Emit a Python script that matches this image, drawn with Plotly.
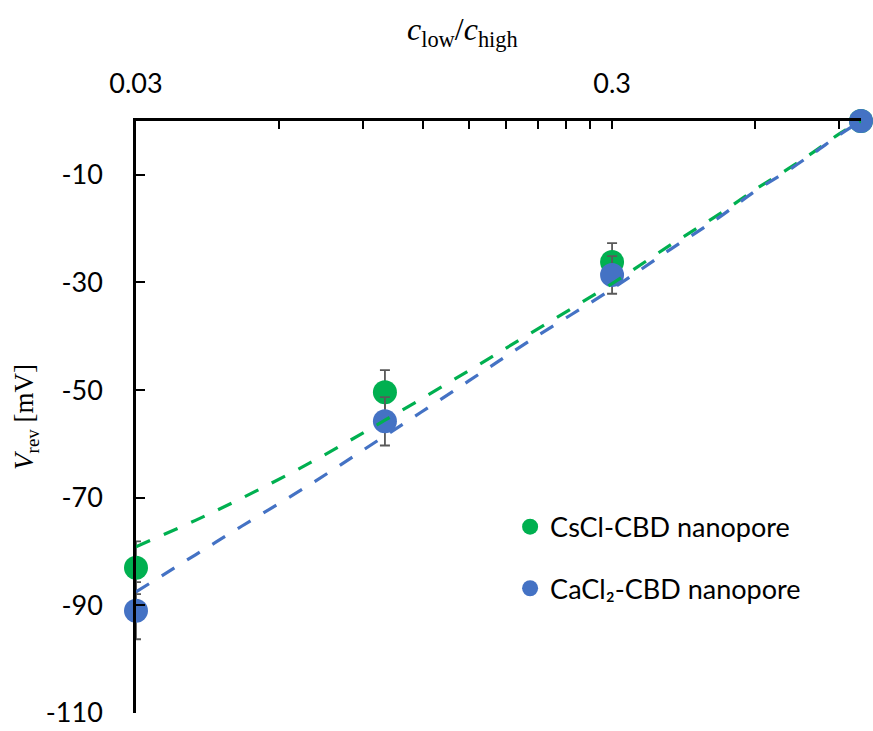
import plotly.graph_objects as go

# ---- data ----
ratio = [0.03, 0.1, 0.3, 1.0]
cscl_v = [-83.0, -50.4, -26.2, 0.0]
cscl_err = [4.9, 4.1, 3.5, 0.0]
cacl2_v = [-91.0, -55.8, -28.6, 0.0]
cacl2_err = [5.3, 4.5, 3.5, 0.0]

fit_ratio = [0.03, 0.04, 0.05, 0.07, 0.1, 0.15, 0.2, 0.3, 0.4, 0.5, 0.6, 0.7, 0.8, 0.9, 1.0]
cscl_fit = [-79.1, -74.2, -70.1, -63.4, -55.6, -46.4, -39.7, -30.2, -22.9, -17.5, -12.7, -9.0, -5.6, -2.4, 0.0]
cacl2_fit = [-87.5, -80.6, -75.3, -67.4, -58.5, -48.3, -41.0, -31.2, -23.7, -18.1, -13.0, -9.3, -5.8, -2.6, 0.0]

x_major_ticks = [0.03, 0.3]
x_major_labels = ["0.03", "0.3"]
x_minor_ticks = [0.06, 0.09, 0.12, 0.15, 0.18, 0.21, 0.24, 0.27, 0.6, 0.9]
y_tickvals = [-110, -90, -70, -50, -30, -10]
y_ticktext = ["-110", "-90", "-70", "-50", "-30", "-10"]

x_title = "<i>c</i><sub>low</sub>/<i>c</i><sub>high</sub>"
y_title = "<i>V</i><sub>rev</sub> [mV]"

GREEN = "#00B050"
BLUE = "#4472C4"
ERR = "#595959"
TICKFONT = dict(family="Lato", size=27, color="black")
LEGFONT = dict(family="Lato", size=27, color="black")

fig = go.Figure()

fig.add_trace(go.Scatter(
    x=ratio, y=cscl_v, mode="markers", name="CsCl-CBD nanopore",
    marker=dict(color=GREEN, size=24),
    error_y=dict(type="data", array=cscl_err, color=ERR, thickness=1.8, width=5),
    cliponaxis=False, legend="legend",
))
fig.add_trace(go.Scatter(
    x=ratio, y=cacl2_v, mode="markers", name="CaCl₂-CBD nanopore",
    marker=dict(color=BLUE, size=24),
    error_y=dict(type="data", array=cacl2_err, color=ERR, thickness=1.8, width=5),
    cliponaxis=False, legend="legend2",
))
fig.add_trace(go.Scatter(
    x=fit_ratio, y=cscl_fit, mode="lines", showlegend=False,
    line=dict(color=GREEN, width=3.2, dash="15px,15px", shape="spline"),
))
fig.add_trace(go.Scatter(
    x=fit_ratio, y=cacl2_fit, mode="lines", showlegend=False,
    line=dict(color=BLUE, width=3.2, dash="15px,15px", shape="spline"),
))

fig.update_layout(
    width=873, height=731,
    margin=dict(l=136, r=12, t=121, b=18),
    plot_bgcolor="white", paper_bgcolor="white",
    xaxis=dict(
        type="log", side="top", range=[-1.52288, 0], automargin=False,
        tickmode="array", tickvals=x_major_ticks, ticktext=x_major_labels,
        ticks="inside", ticklen=8, tickwidth=2, tickcolor="black",
        minor=dict(tickmode="array", tickvals=x_minor_ticks, ticks="inside",
                   ticklen=8, tickwidth=2, tickcolor="black", showgrid=False),
        showline=True, linecolor="black", linewidth=2.5,
        showgrid=False, zeroline=False,
        tickfont=TICKFONT, ticklabelstandoff=14,
    ),
    yaxis=dict(
        range=[-110, 0], tickvals=y_tickvals, ticktext=y_ticktext, automargin=False,
        ticks="inside", ticklen=9, tickwidth=2, tickcolor="black",
        showline=True, linecolor="black", linewidth=2.5,
        showgrid=False, zeroline=False,
        tickfont=TICKFONT, ticklabelstandoff=25,
        title=dict(text=y_title,
                   font=dict(family="Liberation Serif", size=27, color="black"),
                   standoff=5),
    ),
    annotations=[dict(
        text=x_title, xref="paper", yref="paper", x=0.451, y=1.152,
        xanchor="center", yanchor="middle", showarrow=False,
        font=dict(family="Liberation Serif", size=32, color="black"),
    )],
    legend=dict(x=0.516, y=0.314, xanchor="left", yanchor="middle",
                font=LEGFONT, bgcolor="rgba(0,0,0,0)", itemsizing="trace"),
    legend2=dict(x=0.516, y=0.21, xanchor="left", yanchor="middle",
                 font=LEGFONT, bgcolor="rgba(0,0,0,0)", itemsizing="trace"),
)

fig.write_html("out.html")
